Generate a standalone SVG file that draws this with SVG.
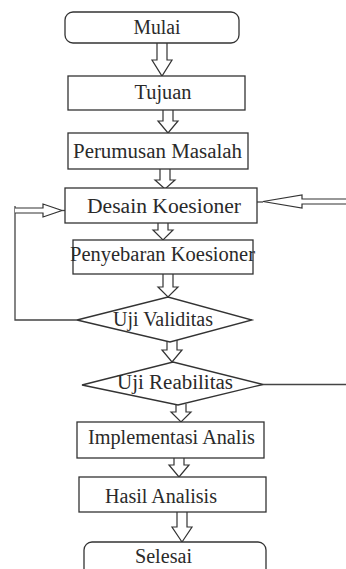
<svg xmlns="http://www.w3.org/2000/svg" width="346" height="569" viewBox="0 0 346 569">
<style>
.box{fill:#fff;stroke:#333;stroke-width:1.3}
.ln{fill:none;stroke:#444;stroke-width:1.3}
.ar{fill:#fff;stroke:#333;stroke-width:1.2}
text{font-family:"Liberation Serif","Times New Roman",serif;font-size:20px;fill:#2a2a2a;text-anchor:middle}
</style>
<rect width="346" height="569" fill="#fff"/>
<g id="connectors">
<path class="ar" d="M157,43 V60 H152 L162,76 L172,60 H167 V43"/>
<path class="ar" d="M163,110 V121 H158 L168,133 L178,121 H173 V110"/>
<path class="ar" d="M160,169 V180 H155 L165,189 L175,180 H170 V169"/>
<path class="ar" d="M158,223 V230 H153 L163,240 L173,230 H168 V223"/>
<path class="ar" d="M163,274 V287 H158 L168,297 L178,287 H173 V274"/>
<path class="ar" d="M167,338 V350 H162 L172,362 L182,350 H177 V338"/>
<path class="ar" d="M176,404 V412 H171 L181,422 L191,412 H186 V404"/>
<path class="ar" d="M174,458 V465 H169 L179,477 L189,465 H184 V458"/>
<path class="ar" d="M177,512 V527 H172 L182,542 L192,527 H187 V512"/>
<path class="ln" d="M77,320 H15 V206"/>
<path class="ar" d="M15,208 H43 V204 L62,210.5 L43,217 V213 H15"/>
<path class="ln" d="M62,210.5 H68"/>
<path class="ln" d="M263,384.5 H346"/>
<path class="ar" d="M346,199 H302 V195 L263,201.5 L302,208 V204 H346"/>
<path class="ln" d="M252,202 H263"/>
</g>
<g id="mulai"><rect class="box" x="65" y="12" width="174" height="31" rx="8"/><text x="157" y="34" textLength="47" lengthAdjust="spacingAndGlyphs">Mulai</text></g>
<g id="tujuan"><rect class="box" x="68" y="76" width="177" height="34"/><text x="163" y="99" textLength="57" lengthAdjust="spacingAndGlyphs">Tujuan</text></g>
<g id="perumusan"><rect class="box" x="68" y="133" width="180" height="36"/><text x="157.5" y="158" textLength="169" lengthAdjust="spacingAndGlyphs">Perumusan Masalah</text></g>
<g id="desain"><rect class="box" x="65" y="188" width="192" height="35"/><text x="164" y="213" textLength="154" lengthAdjust="spacingAndGlyphs">Desain Koesioner</text></g>
<g id="penyebaran"><rect class="box" x="73" y="240" width="180" height="34"/><text x="162.5" y="261" textLength="185" lengthAdjust="spacingAndGlyphs">Penyebaran Koesioner</text></g>
<g id="validitas"><polygon class="box" points="77,320 168,297 252,320 170,342"/><text x="163" y="326" textLength="100" lengthAdjust="spacingAndGlyphs">Uji Validitas</text></g>
<g id="reabilitas"><polygon class="box" points="82,385 173,362 263,384.5 178,405"/><text x="175" y="389" textLength="116" lengthAdjust="spacingAndGlyphs">Uji Reabilitas</text></g>
<g id="implementasi"><rect class="box" x="77" y="422" width="187" height="36"/><text x="171.5" y="444" textLength="167" lengthAdjust="spacingAndGlyphs">Implementasi Analis</text></g>
<g id="hasil"><rect class="box" x="79" y="477" width="187" height="35"/><text x="161" y="503" textLength="112" lengthAdjust="spacingAndGlyphs">Hasil Analisis</text></g>
<g id="selesai"><rect class="box" x="84" y="542" width="182" height="40" rx="8"/><text x="163.5" y="563" textLength="57" lengthAdjust="spacingAndGlyphs">Selesai</text></g>
</svg>
